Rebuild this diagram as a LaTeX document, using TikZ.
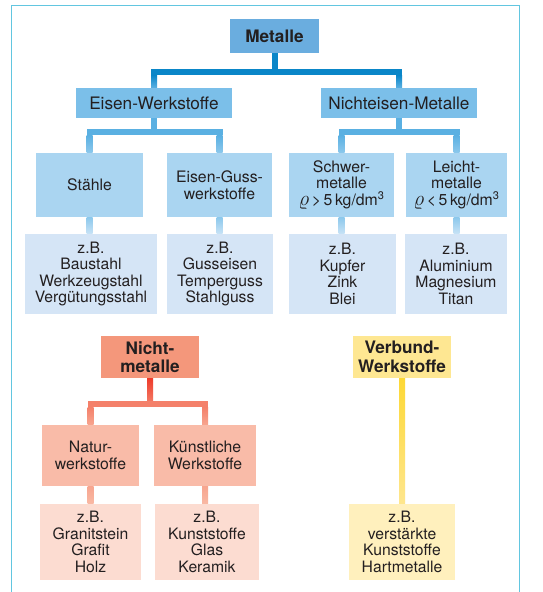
\RequirePackage{fix-cm}
\documentclass[tikz,border=0pt]{standalone}
\usepackage{fontspec}
\setmainfont{TeX Gyre Heros}
\usetikzlibrary{calc}
\definecolor{txt}{HTML}{231F20}
\definecolor{frm}{HTML}{62C6E0}
\definecolor{bA}{HTML}{6AADDF}
\definecolor{bB}{HTML}{7BBFE9}
\definecolor{bC}{HTML}{AAD5F1}
\definecolor{bD}{HTML}{D5E5F6}
\definecolor{bL1}{HTML}{0A86C8}
\definecolor{bL2}{HTML}{5AB0E2}
\definecolor{bL3}{HTML}{8CC8EC}
\definecolor{bL4}{HTML}{C8E3F6}
\definecolor{rA}{HTML}{F4977B}
\definecolor{rB}{HTML}{F9BBA8}
\definecolor{rC}{HTML}{FCDCD1}
\definecolor{rL1}{HTML}{EE3B2A}
\definecolor{rL2}{HTML}{F4806A}
\definecolor{rL3}{HTML}{F7A58F}
\definecolor{rL4}{HTML}{F9B9A4}
\definecolor{yA}{HTML}{FEE792}
\definecolor{yC}{HTML}{FFF0BD}
\definecolor{yL1}{HTML}{FDD835}
\definecolor{yL2}{HTML}{FEE68E}
\newcommand{\myrho}{{\fontsize{21}{16}\selectfont$\varrho$}}
\tikzset{
  box/.style={inner sep=0pt, align=center, text=txt},
  headbox/.style={box, font=\fontsize{17.2}{18.5}\selectfont\bfseries},
  lvlone/.style={box, font=\fontsize{17.2}{18}\selectfont},
  lvltwo/.style={box, font=\fontsize{15.8}{16.6}\selectfont},
  exbox/.style={box, font=\fontsize{15.7}{16.5}\selectfont},
}
\begin{document}
\begin{tikzpicture}[x=1pt,y=-1pt]
\useasboundingbox[fill=white] (0,0) rectangle (542,592);
\draw[frm, line width=1.5pt] (11.5,592) -- (11.5,5.5) -- (519.5,5.5) -- (519.5,592);

% ---------- Metalle ----------
\node[headbox, fill=bA, minimum width=89pt, minimum height=34pt] (metalle) at (274.5,36) {Metalle};
\node[lvlone, fill=bB, minimum width=156pt, minimum height=30pt] (eisen) at (154,103) {Eisen-Werkstoffe};
\node[lvlone, fill=bB, minimum width=156pt, minimum height=30pt] (ne) at (399,103) {Nichteisen-Metalle};

\node[lvltwo, fill=bC, minimum width=107pt, minimum height=64pt] (staehle) at (89.5,185) {Stähle};
\node[lvltwo, fill=bC, minimum width=105pt, minimum height=64pt] (guss) at (219.5,185) {Eisen-Guss-\\werkstoffe};
\node[lvltwo, fill=bC, minimum width=105pt, minimum height=64pt] (schwer) at (341.5,185) {Schwer-\\metalle\\\myrho\,>\,5\,kg/dm\textsuperscript{3}};
\node[lvltwo, fill=bC, minimum width=101pt, minimum height=64pt] (leicht) at (456.5,185) {Leicht-\\metalle\\\myrho\,<\,5\,kg/dm\textsuperscript{3}};

\node[exbox, fill=bD, minimum width=132pt, minimum height=80pt] (exstahl) at (91,274) {z.B.\\Baustahl\\Werkzeugstahl\\Vergütungsstahl};
\node[exbox, fill=bD, minimum width=106pt, minimum height=80pt] (exguss) at (220,274) {z.B.\\Gusseisen\\Temperguss\\Stahlguss};
\node[exbox, fill=bD, minimum width=107pt, minimum height=80pt] (exschwer) at (342.5,274) {z.B.\\Kupfer\\Zink\\Blei};
\node[exbox, fill=bD, minimum width=102pt, minimum height=80pt] (exleicht) at (456,274) {z.B.\\Aluminium\\Magnesium\\Titan};

% connectors metals
\coordinate (m1) at ($(metalle.south)+(0,19)$);
\draw[bL1, line width=6pt] (metalle.south) -- (m1);
\draw[bL1, line width=6pt, line cap=rect] (m1 -| eisen.north) -- (m1 -| ne.north);
\shade[top color=bL1, bottom color=bL2] ($(m1 -| eisen.north)+(-3,3)$) rectangle ($(eisen.north)+(3,0)$);
\shade[top color=bL1, bottom color=bL2] ($(m1 -| ne.north)+(-3,3)$) rectangle ($(ne.north)+(3,0)$);

\coordinate (e1) at ($(eisen.south)+(0,14)$);
\draw[bL2, line width=6pt] (eisen.south) -- (e1);
\draw[bL2, line width=6pt, line cap=rect] (e1 -| staehle.north) -- (e1 -| guss.north);
\shade[top color=bL2, bottom color=bL3] ($(e1 -| staehle.north)+(-3,3)$) rectangle ($(staehle.north)+(3,0)$);
\shade[top color=bL2, bottom color=bL3] ($(e1 -| guss.north)+(-3,3)$) rectangle ($(guss.north)+(3,0)$);

\coordinate (n1) at ($(ne.south)+(0,14)$);
\draw[bL2, line width=6pt] (ne.south) -- (n1);
\draw[bL2, line width=6pt, line cap=rect] (n1 -| schwer.north) -- (n1 -| leicht.north);
\shade[top color=bL2, bottom color=bL3] ($(n1 -| schwer.north)+(-3,3)$) rectangle ($(schwer.north)+(3,0)$);
\shade[top color=bL2, bottom color=bL3] ($(n1 -| leicht.north)+(-3,3)$) rectangle ($(leicht.north)+(3,0)$);

\shade[top color=bL3, bottom color=bL4] ($(staehle.south)+(-3,0)$) rectangle ($(exstahl.north -| staehle.south)+(3,0)$);
\shade[top color=bL3, bottom color=bL4] ($(guss.south)+(-3,0)$) rectangle ($(exguss.north -| guss.south)+(3,0)$);
\shade[top color=bL3, bottom color=bL4] ($(schwer.south)+(-3,0)$) rectangle ($(exschwer.north -| schwer.south)+(3,0)$);
\shade[top color=bL3, bottom color=bL4] ($(leicht.south)+(-3,0)$) rectangle ($(exleicht.north -| leicht.south)+(3,0)$);

% ---------- Nichtmetalle ----------
\node[headbox, fill=rA, minimum width=98pt, minimum height=42pt] (nm) at (150,357) {Nicht-\\metalle};
\node[lvltwo, fill=rB, minimum width=97pt, minimum height=61pt] (natur) at (90.5,455.5) {Natur-\\werkstoffe};
\node[lvltwo, fill=rB, minimum width=102pt, minimum height=61pt] (kuenst) at (205,455.5) {Künstliche\\Werkstoffe};
\node[exbox, fill=rC, minimum width=101pt, minimum height=76pt] (exnatur) at (90.5,542) {z.B.\\Granitstein\\Grafit\\Holz};
\node[exbox, fill=rC, minimum width=104pt, minimum height=76pt] (exkuenst) at (207,542) {z.B.\\Kunststoffe\\Glas\\Keramik};

\coordinate (r1) at ($(nm.south)+(0,26)$);
\shade[top color=rL1, bottom color=rL2] ($(nm.south)+(-3,0)$) rectangle ($(r1)+(3,0)$);
\draw[rL2, line width=6pt, line cap=rect] (r1 -| natur.north) -- (r1 -| kuenst.north);
\shade[top color=rL2, bottom color=rL3] ($(r1 -| natur.north)+(-3,3)$) rectangle ($(natur.north)+(3,0)$);
\shade[top color=rL2, bottom color=rL3] ($(r1 -| kuenst.north)+(-3,3)$) rectangle ($(kuenst.north)+(3,0)$);
\shade[top color=rL3, bottom color=rL4] ($(natur.south)+(-3,0)$) rectangle ($(exnatur.north -| natur.south)+(3,0)$);
\shade[top color=rL3, bottom color=rL4] ($(kuenst.south)+(-3,0)$) rectangle ($(exkuenst.north -| kuenst.south)+(3,0)$);

% ---------- Verbund ----------
\node[headbox, fill=yA, minimum width=98pt, minimum height=42pt] (vb) at (402,357) {Verbund-\\Werkstoffe};
\node[exbox, fill=yC, minimum width=106pt, minimum height=76pt] (exvb) at (402,542) {z.B.\\verstärkte\\Kunststoffe\\Hartmetalle};
\shade[top color=yL1, bottom color=yL2] ($(vb.south)+(-3,0)$) rectangle ($(exvb.north)+(3,0)$);
\end{tikzpicture}
\end{document}
